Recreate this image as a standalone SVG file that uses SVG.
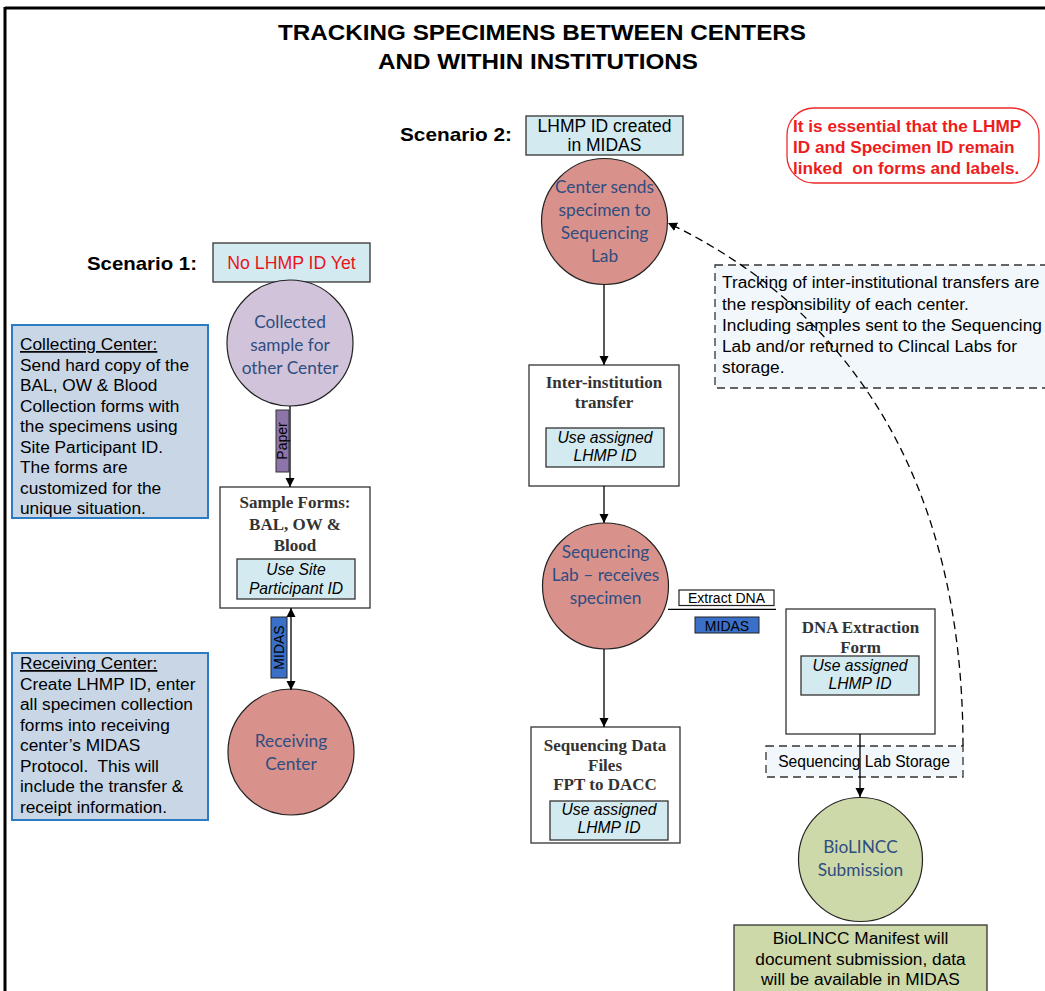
<svg xmlns="http://www.w3.org/2000/svg" width="1045" height="991" viewBox="0 0 1045 991">
<defs>
<marker id="ah" viewBox="0 0 10 10" refX="10" refY="5" markerWidth="9" markerHeight="10" markerUnits="userSpaceOnUse" orient="auto-start-reverse">
<path d="M0,0 L10,5 L0,10 z" fill="#000"/>
</marker>
<style>
.sans{font-family:"Liberation Sans",Arial,sans-serif}
.title{font-family:"Liberation Sans",Arial,sans-serif;font-weight:bold;font-size:22.5px;fill:#000;text-anchor:middle}
.scen{font-family:"Liberation Sans",Arial,sans-serif;font-weight:bold;font-size:19px;fill:#000}
.idbox{fill:#d3ebf0;stroke:#333;stroke-width:1.3}
.box{fill:#fff;stroke:#333;stroke-width:1.3}
.serifb{font-family:"Liberation Serif","Times New Roman",serif;font-weight:bold;font-size:17px;fill:#333;text-anchor:middle}
.ital{font-family:"Liberation Sans",Arial,sans-serif;font-style:italic;font-size:15.7px;fill:#000;text-anchor:middle}
.circ{stroke:#222;stroke-width:1.2}
.ctext{font-family:Lato,"Open Sans",sans-serif;font-size:17.3px;fill:#2f4d80;text-anchor:middle}
.note{fill:#c8d6e6;stroke:#2b7cc4;stroke-width:2}
.ntext{font-family:"Liberation Sans",Arial,sans-serif;font-size:17.3px;fill:#000}
.dashbox{fill:#f1f7fa;stroke:#333;stroke-width:1.3;stroke-dasharray:8 5}
.conn{stroke:#000;stroke-width:1.3;fill:none}
.lbl{font-family:"Liberation Sans",Arial,sans-serif;font-size:14px;fill:#000;text-anchor:middle}
</style>
</defs>
<rect x="0" y="0" width="1045" height="991" fill="#fff"/>
<!-- frame -->
<line x1="5" y1="8" x2="1045" y2="8" stroke="#000" stroke-width="3"/>
<line x1="5" y1="7" x2="5" y2="991" stroke="#000" stroke-width="3"/>

<g id="title">
<text class="title" x="542" y="40" textLength="528" lengthAdjust="spacingAndGlyphs">TRACKING SPECIMENS BETWEEN CENTERS</text>
<text class="title" x="538" y="69" textLength="320" lengthAdjust="spacingAndGlyphs">AND WITHIN INSTITUTIONS</text>
</g>

<g id="scenario1">
<text class="scen" x="87" y="270" textLength="110" lengthAdjust="spacingAndGlyphs">Scenario 1:</text>
<rect class="idbox" x="213" y="243" width="157" height="39"/>
<text class="sans" x="291.5" y="269" font-size="17.7" fill="#e8141c" text-anchor="middle">No LHMP ID Yet</text>
</g>

<g id="collecting-note">
<rect class="note" x="12" y="325" width="196" height="193"/>
<text class="ntext" x="20" y="350" text-decoration="underline">Collecting Center:</text>
<text class="ntext" x="20" y="370.5">Send hard copy of the</text>
<text class="ntext" x="20" y="391">BAL, OW &amp; Blood</text>
<text class="ntext" x="20" y="411.5">Collection forms with</text>
<text class="ntext" x="20" y="432">the specimens using</text>
<text class="ntext" x="20" y="452.5">Site Participant ID.</text>
<text class="ntext" x="20" y="473">The forms are</text>
<text class="ntext" x="20" y="493.5">customized for the</text>
<text class="ntext" x="20" y="514">unique situation.</text>
</g>

<g id="receiving-note">
<rect class="note" x="12" y="653" width="196" height="167"/>
<text class="ntext" x="20" y="669" text-decoration="underline">Receiving Center:</text>
<text class="ntext" x="20" y="689.5">Create LHMP ID, enter</text>
<text class="ntext" x="20" y="710">all specimen collection</text>
<text class="ntext" x="20" y="730.5">forms into receiving</text>
<text class="ntext" x="20" y="751">center’s MIDAS</text>
<text class="ntext" x="20" y="771.5" xml:space="preserve">Protocol.  This will</text>
<text class="ntext" x="20" y="792">include the transfer &amp;</text>
<text class="ntext" x="20" y="812.5">receipt information.</text>
</g>

<g id="collected-sample">
<circle class="circ" cx="290" cy="343" r="63" fill="#d1c4da"/>
<text class="ctext" x="290" y="328">Collected</text>
<text class="ctext" x="290" y="351">sample for</text>
<text class="ctext" x="290" y="374">other Center</text>
</g>

<g id="sample-forms">
<rect class="box" x="220" y="487" width="150" height="121"/>
<text class="serifb" x="295" y="508">Sample Forms:</text>
<text class="serifb" x="295" y="530">BAL, OW &amp;</text>
<text class="serifb" x="295" y="551">Blood</text>
<rect class="idbox" x="237" y="559" width="118" height="40"/>
<text class="ital" x="296" y="575">Use Site</text>
<text class="ital" x="296" y="594">Participant ID</text>
</g>

<g id="receiving-center">
<circle class="circ" cx="291" cy="752" r="63" fill="#d9918c"/>
<text class="ctext" x="291" y="747">Receiving</text>
<text class="ctext" x="291" y="770">Center</text>
</g>

<g id="scenario2">
<text class="scen" x="400" y="141" textLength="112" lengthAdjust="spacingAndGlyphs">Scenario 2:</text>
<rect class="idbox" x="526" y="116" width="157" height="39"/>
<text class="sans" x="604.5" y="132" font-size="17.5" fill="#000" text-anchor="middle">LHMP ID created</text>
<text class="sans" x="604.5" y="151" font-size="17.5" fill="#000" text-anchor="middle">in MIDAS</text>
</g>

<g id="essential-note">
<rect x="787" y="108" width="252" height="75" rx="27" ry="27" fill="#fff" stroke="#ee2a2a" stroke-width="1.3"/>
<text class="sans" x="793" y="132" font-size="17.2" font-weight="bold" fill="#ee1c1c">It is essential that the LHMP</text>
<text class="sans" x="793" y="153" font-size="17.2" font-weight="bold" fill="#ee1c1c">ID and Specimen ID remain</text>
<text class="sans" x="793" y="174" font-size="17.2" font-weight="bold" fill="#ee1c1c" xml:space="preserve">linked  on forms and labels.</text>
</g>

<g id="center-sends">
<circle class="circ" cx="604.5" cy="221.5" r="63" fill="#d9918c"/>
<text class="ctext" x="604.5" y="193">Center sends</text>
<text class="ctext" x="604.5" y="216">specimen to</text>
<text class="ctext" x="604.5" y="239">Sequencing</text>
<text class="ctext" x="604.5" y="262">Lab</text>
</g>

<g id="tracking-note">
<rect class="dashbox" x="715" y="265" width="340" height="123"/>
<text class="ntext" x="722" y="288">Tracking of inter-institutional transfers are</text>
<text class="ntext" x="722" y="310">the responsibility of each center.</text>
<text class="ntext" x="722" y="331">Including samples sent to the Sequencing</text>
<text class="ntext" x="722" y="352">Lab and/or returned to Clincal Labs for</text>
<text class="ntext" x="722" y="373">storage.</text>
</g>

<g id="inter-institution">
<rect class="box" x="529" y="365" width="150" height="121"/>
<text class="serifb" x="604" y="388">Inter-institution</text>
<text class="serifb" x="604" y="408">transfer</text>
<rect class="idbox" x="546" y="428" width="118" height="39"/>
<text class="ital" x="605" y="443">Use assigned</text>
<text class="ital" x="605" y="461">LHMP ID</text>
</g>

<g id="sequencing-lab">
<circle class="circ" cx="605.5" cy="586" r="63" fill="#d9918c"/>
<text class="ctext" x="605.5" y="558">Sequencing</text>
<text class="ctext" x="605.5" y="581">Lab – receives</text>
<text class="ctext" x="605.5" y="604">specimen</text>
</g>

<g id="extract-dna-label">
<rect x="679" y="590" width="95" height="15.5" fill="#fff" stroke="#222" stroke-width="1.2"/>
<text class="lbl" x="726.5" y="602.5">Extract DNA</text>
</g>

<g id="midas-label-2">
<rect x="695" y="617" width="64" height="16" fill="#3a70c8" stroke="#222" stroke-width="1"/>
<text class="lbl" x="727" y="630.5">MIDAS</text>
</g>

<g id="dna-extraction">
<rect class="box" x="786" y="609" width="149" height="125"/>
<text class="serifb" x="860.5" y="633">DNA Extraction</text>
<text class="serifb" x="860.5" y="653">Form</text>
<rect class="idbox" x="801" y="656" width="118" height="39"/>
<text class="ital" x="860" y="671">Use assigned</text>
<text class="ital" x="860" y="689">LHMP ID</text>
</g>

<g id="storage-label">
<rect class="dashbox" x="766" y="746" width="197" height="31"/>
<text class="sans" x="864" y="767" font-size="15.6" fill="#000" text-anchor="middle">Sequencing Lab Storage</text>
</g>

<g id="sequencing-data">
<rect class="box" x="531" y="727" width="149" height="116"/>
<text class="serifb" x="605" y="751">Sequencing Data</text>
<text class="serifb" x="605" y="771">Files</text>
<text class="serifb" x="605" y="790">FPT to DACC</text>
<rect class="idbox" x="550" y="801" width="118" height="39"/>
<text class="ital" x="609" y="815">Use assigned</text>
<text class="ital" x="609" y="833">LHMP ID</text>
</g>

<g id="biolincc">
<circle class="circ" cx="860.5" cy="859.5" r="62" fill="#cdd9a9"/>
<text class="ctext" x="860.5" y="853">BioLINCC</text>
<text class="ctext" x="860.5" y="876">Submission</text>
</g>

<g id="manifest">
<rect x="734" y="925" width="253" height="70" fill="#cdd9a9" stroke="#333" stroke-width="1.3"/>
<text class="sans" x="860.5" y="944" font-size="17.3" fill="#000" text-anchor="middle">BioLINCC Manifest will</text>
<text class="sans" x="860.5" y="965" font-size="17.3" fill="#000" text-anchor="middle">document submission, data</text>
<text class="sans" x="860.5" y="985" font-size="17.3" fill="#000" text-anchor="middle">will be available in MIDAS</text>
</g>

<g id="connectors">
<line class="conn" x1="290" y1="406" x2="290" y2="487" marker-end="url(#ah)"/>
<line class="conn" x1="291" y1="608" x2="291" y2="690" marker-start="url(#ah)" marker-end="url(#ah)"/>
<line class="conn" x1="604" y1="284.5" x2="604" y2="365" marker-end="url(#ah)"/>
<line class="conn" x1="604" y1="486" x2="604" y2="523" marker-end="url(#ah)"/>
<line class="conn" x1="604" y1="649" x2="604" y2="727" marker-end="url(#ah)"/>
<line class="conn" x1="668" y1="609.3" x2="776" y2="609.3"/>
<line class="conn" x1="860" y1="734" x2="860" y2="797" marker-end="url(#ah)"/>
<path class="conn" d="M963,746 C963,480 850,310 668,223" stroke-dasharray="8 5" marker-end="url(#ah)"/>
</g>

<g id="paper-label">
<rect x="276" y="410" width="13" height="62" fill="#8d74a9" stroke="#333" stroke-width="1"/>
<text class="lbl" x="0" y="0" font-size="12.5" transform="translate(287,441) rotate(-90)">Paper</text>
</g>
<g id="midas-label-1">
<rect x="271" y="617" width="16" height="61" fill="#3a70c8" stroke="#222" stroke-width="1"/>
<text class="lbl" x="0" y="0" transform="translate(284,647.5) rotate(-90)">MIDAS</text>
</g>
</svg>
